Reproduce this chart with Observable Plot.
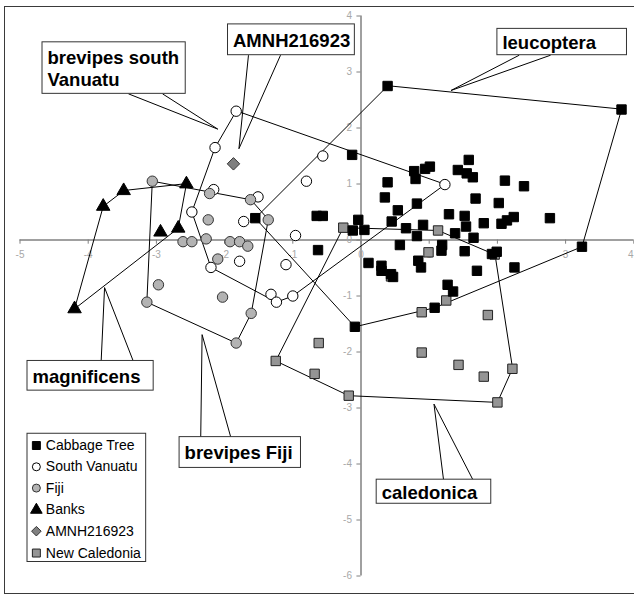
<!DOCTYPE html>
<html><head><meta charset="utf-8">
<script src="https://cdn.jsdelivr.net/npm/d3@7"></script>
<script src="https://cdn.jsdelivr.net/npm/@observablehq/plot@0.6"></script>
<style>
body{margin:0;background:#fff;}
#wrap{position:relative;width:634px;height:596px;overflow:hidden;background:#fff;}
#wrap svg{display:block;}
#frame{position:absolute;left:4px;top:6px;width:700px;height:588px;border:1px solid #3a3a3a;box-sizing:border-box;pointer-events:none;}
</style></head><body><div id="wrap"><div id="frame"></div></div>
<script>
// ---- data (x, y) ----
const cabbageTree = [[0.39,2.75],[3.82,2.33],[3.24,-0.12],[-0.13,1.52],[0.78,1.23],[0.80,1.09],[0.94,1.27],[1.01,1.31],[1.42,1.25],[1.55,1.19],[1.64,1.12],[1.58,1.43],[0.39,1.03],[0.35,0.76],[2.11,1.06],[2.39,0.96],[2.02,0.66],[1.68,0.74],[0.82,0.65],[0.54,0.53],[0.45,0.33],[-0.04,0.36],[-0.56,0.43],[-0.65,0.43],[-0.12,0.17],[0.05,0.18],[0.66,0.21],[0.91,0.27],[1.29,0.46],[1.52,0.43],[1.54,0.24],[1.80,0.30],[1.38,0.12],[1.65,0.04],[0.82,0.07],[2.06,0.29],[2.14,0.35],[2.24,0.41],[2.77,0.39],[0.57,-0.09],[1.19,-0.09],[1.18,-0.19],[1.52,-0.20],[1.92,-0.25],[1.99,-0.21],[0.11,-0.41],[0.30,-0.46],[0.30,-0.55],[0.44,-0.61],[0.47,-0.66],[0.84,-0.37],[0.88,-0.49],[1.70,-0.55],[2.25,-0.49],[1.27,-0.80],[1.35,-0.92],[1.08,-1.21],[-0.09,-1.55],[-0.63,-0.18],[-1.55,0.39]];
const southVanuatu = [[-1.83,2.30],[-2.14,1.65],[-0.56,1.50],[-0.80,1.05],[-2.16,0.90],[-1.51,0.77],[-2.48,0.50],[-1.72,0.33],[-0.96,0.08],[-1.78,-0.38],[-2.20,-0.49],[-1.10,-0.44],[-1.32,-0.97],[-1.24,-1.11],[-1.00,-1.00],[1.23,0.99]];
const fiji = [[-3.06,1.05],[-2.22,0.83],[-1.62,0.72],[-2.24,0.36],[-1.36,0.36],[-2.61,-0.03],[-2.48,-0.03],[-2.27,0.02],[-1.92,-0.03],[-1.78,-0.03],[-1.66,-0.11],[-2.10,-0.34],[-2.97,-0.80],[-3.14,-1.11],[-2.03,-1.02],[-1.61,-1.31],[-1.83,-1.84]];
const banks = [[-4.20,-1.23],[-3.78,0.60],[-3.48,0.88],[-2.56,1.00],[-2.94,0.14],[-2.68,0.21]];
const amnh216923 = [[-1.87,1.36]];
const newCaledonia = [[-0.26,0.22],[1.13,0.17],[0.99,-0.22],[0.44,-0.65],[1.25,-1.08],[0.89,-1.29],[1.86,-1.34],[-0.62,-1.84],[0.89,-2.01],[-1.25,-2.16],[-0.68,-2.39],[1.43,-2.23],[1.80,-2.44],[2.22,-2.30],[-0.18,-2.78],[2.00,-2.90],[1.96,-0.26]];

const xTicks = [-5,-4,-3,-2,-1,0,1,2,3,4];
const yTicks = [-6,-5,-4,-3,-2,-1,0,1,2,3,4];

const seriesNames = ["Cabbage Tree","South Vanuatu","Fiji","Banks","AMNH216923","New Caledonia"];

// callout labels (data coordinates)
const labelTexts = ["brevipes south\nVanuatu","AMNH216923","leucoptera","magnificens","brevipes Fiji","caledonica"];
const boxX1 = [-4.67,-1.95,2.00,-4.89,-2.66,0.23];
const boxX2 = [-2.57,-0.09,3.90,-3.04,-0.88,1.91];
const boxYTop = [3.53,3.85,3.77,-2.16,-3.52,-4.28];
const boxYBottom = [2.61,3.30,3.30,-2.69,-4.07,-4.71];
const pointerBaseX1 = [-3.41,-1.65,2.32,-3.81,-2.35,1.21];
const pointerBaseX2 = [-2.91,-1.18,2.78,-3.34,-1.91,1.64];
const pointerBaseY = [2.61,3.30,3.30,-2.16,-3.52,-4.28];
const pointerTipX = [-2.10,-1.79,1.32,-3.76,-2.33,1.07];
const pointerTipY = [1.98,1.63,2.67,-0.85,-1.69,-2.93];

// legend placement (data coordinates)
const legendBox = {x1:-4.89, x2:-3.15, y1:-3.46, y2:-5.75};
const legendSymbolX = -4.76;
const legendRowY = [-3.67,-4.05,-4.43,-4.82,-5.20,-5.59];

// ---- styles ----
const styles = {
  "Cabbage Tree": {data: cabbageTree, symbol:"square", fill:"#000", stroke:"#000", r:5.3, lr:4.5},
  "South Vanuatu": {data: southVanuatu, symbol:"circle", fill:"#fff", stroke:"#000", r:5.2, lr:4},
  "Fiji": {data: fiji, symbol:"circle", fill:"#b3b3b3", stroke:"#333", r:5.2, lr:4},
  "Banks": {data: banks, symbol:"triangle", fill:"#000", stroke:"#000", r:5, lr:4.3},
  "AMNH216923": {data: amnh216923, symbol:"diamond2", fill:"#808080", stroke:"#333", r:5.6, lr:4.3},
  "New Caledonia": {data: newCaledonia, symbol:"square", fill:"#959595", stroke:"#222", r:5.3, lr:4.5}
};

const hullGroups = [cabbageTree, southVanuatu, fiji, banks, newCaledonia];
const hullMarks = hullGroups.map(g => Plot.line(d3.polygonHull(g.map(p => [p[0], p[1]])), {
  x: d => d[0], y: d => d[1], curve: "linear-closed", stroke: "#000", strokeWidth: 1
}));

const drawOrder = ["South Vanuatu","Fiji","Banks","AMNH216923","New Caledonia","Cabbage Tree"];
const dotMarks = drawOrder.map(n => {
  const s = styles[n];
  return Plot.dot(s.data, {x: d => d[0], y: d => d[1], symbol: () => s.symbol, r: s.r, fill: s.fill, stroke: s.stroke, strokeWidth: 1});
});

const ann = labelTexts.map((t, i) => ({t, x1: boxX1[i], x2: boxX2[i], y1: boxYTop[i], y2: boxYBottom[i],
  bx1: pointerBaseX1[i], bx2: pointerBaseX2[i], by: pointerBaseY[i], tx: pointerTipX[i], ty: pointerTipY[i]}));
const pointers = ann.flatMap(a => [{x1:a.bx1, y1:a.by, x2:a.tx, y2:a.ty},{x1:a.bx2, y1:a.by, x2:a.tx, y2:a.ty}]);

const legendRows = seriesNames.map((n, i) => ({n, y: legendRowY[i], ...styles[n]}));
const xMax = xTicks[xTicks.length - 1];

const chart = Plot.plot({
  width: 634, height: 596,
  marginLeft: 19.5, marginRight: 0.7, marginTop: 15.5, marginBottom: 20.5,
  x: {domain: [-5, 4], axis: null},
  y: {domain: [-6, 4], axis: null},
  style: {fontFamily: "'Liberation Sans', Arial, sans-serif", background: "#fff", overflow: "visible"},
  marks: [
    Plot.ruleY([0], {x1: -5, x2: 4, stroke: "#808080", strokeWidth: 1.5}),
    Plot.ruleX([0], {y1: -6, y2: 4, stroke: "#808080", strokeWidth: 1.5}),
    Plot.ruleX(xTicks, {x: d => d, y1: 0, y2: -0.075, stroke: "#808080", strokeWidth: 1}),
    Plot.ruleY(yTicks, {y: d => d, x1: -0.06, x2: 0, stroke: "#808080", strokeWidth: 1}),
    Plot.text(xTicks.filter(d => d !== xMax), {x: d => d, y: 0, dy: 15, text: d => String(d), fill: "#a8a8a8", fontSize: 10}),
    Plot.text([xMax], {x: d => d, y: 0, dy: 15, dx: -3, text: d => String(d), fill: "#a8a8a8", fontSize: 10}),
    Plot.text(yTicks, {x: 0, y: d => d, dx: -9, textAnchor: "end", text: d => String(d), fill: "#a8a8a8", fontSize: 10}),
    ...hullMarks,
    ...dotMarks,
    Plot.link(pointers, {x1: "x1", y1: "y1", x2: "x2", y2: "y2", stroke: "#000", strokeWidth: 1}),
    Plot.rect(ann, {x1: "x1", x2: "x2", y1: "y1", y2: "y2", fill: "#fff", stroke: "#333", strokeWidth: 1}),
    Plot.text(ann, {x: "x1", y: d => (d.y1 + d.y2) / 2, dx: 5, text: "t", textAnchor: "start", fontWeight: "bold", fontSize: 18.5, lineHeight: 1.17, fill: "#000"}),
    Plot.rect([legendBox], {x1: "x1", x2: "x2", y1: "y1", y2: "y2", fill: "#fff", stroke: "#333", strokeWidth: 1}),
    ...legendRows.map(row => Plot.dot([row], {x: () => legendSymbolX, y: "y", symbol: () => row.symbol, r: row.lr, fill: row.fill, stroke: row.stroke, strokeWidth: 1})),
    Plot.text(legendRows, {x: () => legendSymbolX, y: "y", dx: 9.5, text: "n", textAnchor: "start", fontSize: 14, fill: "#000"})
  ]
});
const wrap = document.getElementById("wrap");
wrap.insertBefore(chart, document.getElementById("frame"));
</script>
</body></html>
